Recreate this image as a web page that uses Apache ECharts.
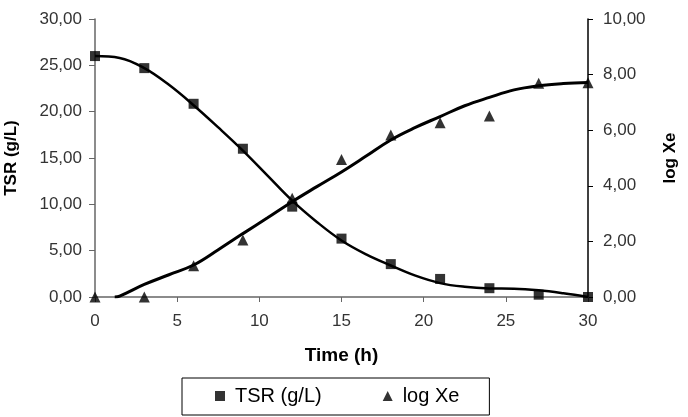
<!DOCTYPE html>
<html><head><meta charset="utf-8">
<script src="https://cdn.jsdelivr.net/npm/echarts@6/dist/echarts.min.js"></script>
<style>html,body{margin:0;padding:0;background:#fff}#c{width:688px;height:417px}</style>
</head><body><div id="c"></div>
<script>
// Measured data
const times = [0, 3, 6, 9, 12, 15, 18, 21, 24, 27, 30];
const tsr = [26.0, 24.7, 20.85, 16.0, 9.75, 6.3, 3.55, 1.95, 0.95, 0.25, 0.0];
const logXe = [0.0, 0.0, 1.12, 2.05, 3.55, 4.95, 5.83, 6.27, 6.51, 7.69, 7.71];
// Fitted curves
const fitTimesTsr = [0, 1.5, 3, 4.5, 6, 7.5, 9, 10.5, 12, 13.5, 15, 16.5, 18, 19.5, 21, 22.5, 24, 25.5, 27, 28.5, 30];
const fitTsr = [26.0, 25.8, 24.7, 22.9, 20.7, 18.3, 15.8, 13.1, 10.4, 8.1, 6.1, 4.6, 3.4, 2.3, 1.5, 1.1, 0.93, 0.9, 0.72, 0.4, 0.0];
const fitTimesXe = [1.2, 1.5, 3, 4.5, 6, 7.5, 9, 10.5, 12, 13.5, 15, 16.5, 18, 19.5, 21, 22.5, 24, 25.5, 27, 28.5, 30];
const fitXe = [0.0, 0.03, 0.45, 0.8, 1.15, 1.7, 2.28, 2.85, 3.43, 3.97, 4.5, 5.07, 5.65, 6.1, 6.49, 6.88, 7.18, 7.45, 7.6, 7.68, 7.72];
const xTicks = [0, 5, 10, 15, 20, 25, 30];

const zip = (a, b) => a.map((v, i) => [v, b[i]]);
const fmt = v => v.toFixed(2).replace('.', ',');
const font = 'Liberation Sans, Arial, sans-serif';

const chart = echarts.init(document.getElementById('c'));
chart.setOption({
  animation: false,
  textStyle: { fontFamily: font },
  grid: { left: 95, right: 100, top: 19, bottom: 120, containLabel: false, outerBoundsMode: 'none' },
  legend: {
    data: ['TSR (g/L)', 'log Xe'],
    left: 182, top: 378,
    padding: [8, 30, 9, 33],
    borderColor: '#000', borderWidth: 1,
    itemGap: 61, itemWidth: 10, itemHeight: 10,
    textStyle: { fontSize: 20, color: '#000', fontFamily: font, padding: [0, 0, 0, 5] }
  },
  xAxis: {
    type: 'value', min: 0, max: 30, interval: 5,
    name: 'Time (h)', nameLocation: 'middle', nameGap: 49,
    nameTextStyle: { fontSize: 19, fontWeight: 'bold', color: '#000', fontFamily: font },
    axisLine: { lineStyle: { color: '#666', width: 1.5 } },
    axisTick: { inside: false, length: 5, lineStyle: { color: '#666' } },
    axisLabel: { fontSize: 17, color: '#333', margin: 16, formatter: v => xTicks.includes(v) ? String(v) : '' },
    splitLine: { show: false }
  },
  yAxis: [{
    type: 'value', min: 0, max: 30, interval: 5, position: 'left',
    name: 'TSR (g/L)', nameLocation: 'middle', nameGap: 75, nameRotate: 90, nameMoveOverlap: false,
    nameTextStyle: { fontSize: 17, fontWeight: 'bold', color: '#000', fontFamily: font },
    axisLine: { show: true, lineStyle: { color: '#666', width: 1.5 } },
    axisTick: { show: true, length: 6, lineStyle: { color: '#666' } },
    axisLabel: { fontSize: 17, color: '#333', margin: 13, formatter: fmt },
    splitLine: { show: false }
  }, {
    type: 'value', min: 0, max: 10, interval: 2, position: 'right',
    name: 'log Xe', nameLocation: 'middle', nameGap: 74, nameRotate: 90,
    nameTextStyle: { fontSize: 17, fontWeight: 'bold', color: '#000', fontFamily: font },
    axisLine: { show: true, lineStyle: { color: '#000', width: 1.5 } },
    axisTick: { show: true, length: 5, lineStyle: { color: '#000' } },
    axisLabel: { fontSize: 17, color: '#333', margin: 15, formatter: fmt },
    splitLine: { show: false }
  }],
  series: [
    { name: 'fitTsr', type: 'line', yAxisIndex: 0, smooth: 0.4, showSymbol: false, symbol: 'none',
      data: zip(fitTimesTsr, fitTsr), lineStyle: { color: '#000', width: 2.5 }, z: 2 },
    { name: 'fitXe', type: 'line', yAxisIndex: 1, smooth: 0.4, showSymbol: false, symbol: 'none',
      data: zip(fitTimesXe, fitXe), lineStyle: { color: '#000', width: 3 }, z: 2 },
    { name: 'TSR (g/L)', type: 'scatter', yAxisIndex: 0, symbol: 'rect', symbolSize: 10,
      itemStyle: { color: '#000' }, data: zip(times, tsr), z: 3 },
    { name: 'log Xe', type: 'scatter', yAxisIndex: 1, symbol: 'triangle', symbolSize: 11,
      itemStyle: { color: '#000' }, data: zip(times, logXe), z: 3 }
  ]
});
</script></body></html>
